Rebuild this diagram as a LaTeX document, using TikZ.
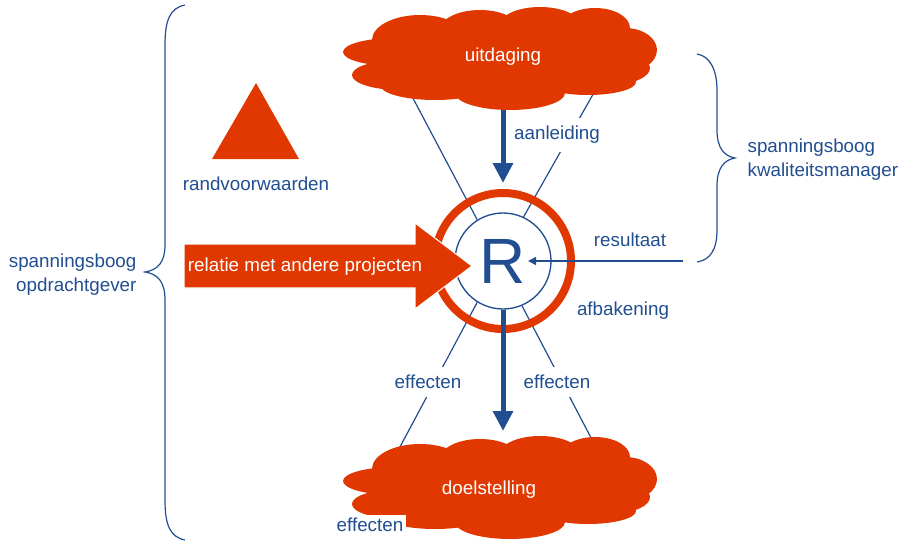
\documentclass[tikz,border=0pt]{standalone}
\usepackage{fontspec}
\setmainfont{Liberation Sans}
\usetikzlibrary{arrows.meta,backgrounds}
\definecolor{bl}{RGB}{33,78,145}
\definecolor{orng}{RGB}{224,56,0}
\begin{document}
\begin{tikzpicture}[x=0.75pt,y=-0.75pt,
  font=\fontsize{14.1}{18}\selectfont,
  lbl/.style={text=bl, inner sep=1pt},
  cutlbl/.style={text=bl, fill=white, inner xsep=3pt, inner ysep=6pt},
  thinline/.style={draw=bl, line width=0.9pt},
  bigarrow/.style={draw=bl, line width=3.75pt, -{Triangle[length=15pt,width=14.5pt]}},
  cloudtext/.style={text=white, inner sep=1pt},
  cloudpic/.pic={
    \fill[orng] (0,0) ellipse [x radius=130, y radius=40];
    \fill[orng] (-105,-6) ellipse [x radius=52, y radius=14];
    \fill[orng] (-100,17) ellipse [x radius=48, y radius=15];
    \fill[orng] (-80,-18) ellipse [x radius=48, y radius=25];
    \fill[orng] (-20,-28) ellipse [x radius=40, y radius=20];
    \fill[orng] (40,-33) ellipse [x radius=40, y radius=18];
    \fill[orng] (95,-30) ellipse [x radius=35, y radius=20];
    \fill[orng] (125,-8) ellipse [x radius=32, y radius=22];
    \fill[orng] (115,10) ellipse [x radius=35, y radius=16];
    \fill[orng] (-65,27) ellipse [x radius=55, y radius=15];
    \fill[orng] (10,35) ellipse [x radius=55, y radius=17];
    \fill[orng] (88,24) ellipse [x radius=48, y radius=13];
  }]
\path[use as bounding box] (0,0) rectangle (900,542);

% clouds
\pic at (500,58) {cloudpic};
\pic at (500,487) {cloudpic};
\node[cloudtext] (uit) at (503,57) {uitdaging};
\node[cloudtext] (doel) at (489,490) {doelstelling};

% triangle
\fill[orng] (256,83) -- (299,159) -- (212,159) -- cycle;
\node[lbl] (rand) at (256,184) {randvoorwaarden};

% ring and inner circle
\node[circle, draw=orng, line width=6pt, minimum size=102pt, inner sep=0pt] (ring) at (503,261) {};
\node[circle, draw=bl, line width=1pt, fill=white, minimum size=72pt, inner sep=0pt,
      text=bl, font=\fontsize{48}{50}\selectfont] (R) at (503,261) {R};

% coordinates
\coordinate (cTL) at (406,85);
\coordinate (cTR) at (600,82);
\coordinate (cBL) at (393,460);
\coordinate (cBR) at (600,455);
\coordinate (tipTop) at (503,183);
\coordinate (tipBot) at (503,431);
\coordinate (resStart) at (683,261);
\coordinate (resTip) at (528,261);

\begin{scope}[on background layer]
  \draw[thinline] (R.122) -- (cTL);
  \draw[thinline] (R.65) -- (cTR);
  \draw[thinline] (R.238) -- (cBL);
  \draw[thinline] (R.293) -- (cBR);
  \draw[bigarrow] (uit) -- (tipTop);
\end{scope}

% big red arrow
\fill[orng, draw=white, line width=0.8pt] (184,244) -- (415,244) -- (415,223) -- (472,266)
   -- (415,309) -- (415,288) -- (184,288) -- cycle;
\node[cloudtext] (rel) at (305,267) {relatie met andere projecten};

% arrows
\draw[bigarrow] (R) -- (tipBot);
\draw[draw=bl, line width=1pt, -{Triangle[length=6pt,width=6pt]}] (resStart) -- (resTip);

% labels
\node[cutlbl] (aan) at (557,135) {aanleiding};
\node[cutlbl] (effL) at (428,382) {effecten};
\node[cutlbl] (effR) at (557,382) {effecten};
\node[lbl, fill=white, inner sep=2pt] (effB) at (370,525) {effecten};
\node[lbl] (res) at (630,240) {resultaat};
\node[lbl] (afb) at (623,311) {afbakening};

% braces
\draw[thinline] (185,5) .. controls (170,8) and (165,20) .. (165,45) -- (165,245)
   .. controls (165,262) and (158,270) .. (145,272)
   .. controls (158,274) and (165,282) .. (165,300) -- (165,500)
   .. controls (165,525) and (170,537) .. (185,540);
\draw[thinline] (697,54) .. controls (710,56) and (717,70) .. (717,90) -- (717,130)
   .. controls (717,148) and (724,156) .. (735,158)
   .. controls (724,160) and (717,168) .. (717,186) -- (717,230)
   .. controls (717,250) and (710,260) .. (697,262);

\node[lbl, anchor=east, align=right] (opdr) at (138,275) {spanningsboog\\opdrachtgever};
\node[lbl, anchor=west, align=left] (kwal) at (746,160) {spanningsboog\\kwaliteitsmanager};
\end{tikzpicture}
\end{document}
